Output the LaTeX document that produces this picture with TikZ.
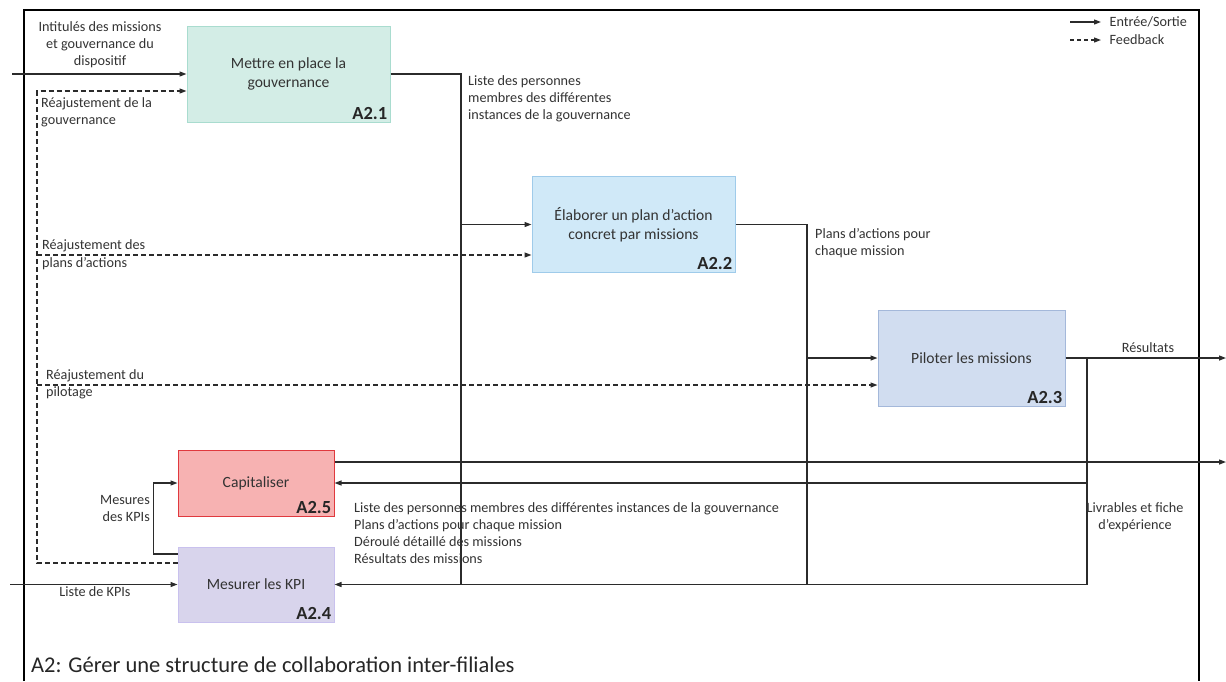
\documentclass[tikz,border=0pt]{standalone}
\usepackage{fontspec}
\setmainfont{Carlito}
\usetikzlibrary{arrows.meta,positioning,calc}
\definecolor{verA}{HTML}{D3EDE6}\definecolor{verB}{HTML}{A9DCCF}
\definecolor{bleuA}{HTML}{D0E9F8}\definecolor{bleuB}{HTML}{9FCBEA}
\definecolor{bleuC}{HTML}{D1DDF0}\definecolor{bleuD}{HTML}{A4B8DA}
\definecolor{rougeA}{HTML}{F7B2B2}\definecolor{rougeB}{HTML}{E0393E}
\definecolor{violA}{HTML}{D8D4EC}\definecolor{violB}{HTML}{C9C1EE}
\definecolor{trait}{HTML}{2B2B2B}
\definecolor{texte}{HTML}{333333}
\begin{document}
\begin{tikzpicture}[x=1pt, y=-1pt, >={Triangle[length=7pt,width=5pt]},
  box/.style={rectangle, line width=1pt, minimum width=203pt, minimum height=96pt, align=center,
    text=texte, font=\fontsize{15.6}{19.5}\selectfont},
  tag/.style={anchor=south east, inner sep=3pt, font=\bfseries\fontsize{18.5}{21}\selectfont, text=black!85},
  lbl/.style={inner sep=0pt, text=texte, font=\fontsize{14.2}{17}\selectfont},
  io/.style={draw=trait, line width=1.2pt},
  fb/.style={draw=trait, line width=1.2pt, dashed, dash pattern=on 5pt off 3pt}]
\useasboundingbox (0,0) rectangle (1226,681);
% Cadre
\draw[line width=1.6pt] (24,681) -- (24,10) -- (1199,10) -- (1199,681);
% Activites
\node [box, fill=verA, draw=verB] (A21) at (288.5,74) {Mettre en place la\\gouvernance};
\node [tag] (t21) at (A21.south east) {A2.1};
\node [box, fill=bleuA, draw=bleuB] (A22) at (633.5,224.5) {Élaborer un plan d’action\\concret par missions};
\node [tag] (t22) at (A22.south east) {A2.2};
\node [box, fill=bleuC, draw=bleuD, minimum width=187pt] (A23) at (971.5,358) {Piloter les missions};
\node [tag] (t23) at (A23.south east) {A2.3};
\node [box, fill=rougeA, draw=rougeB, minimum width=156pt, minimum height=66pt] (A25) at (256,483) {Capitaliser};
\node [tag] (t25) at (A25.south east) {A2.5};
\node [box, fill=violA, draw=violB, minimum width=156pt, minimum height=75pt] (A24) at (256,584.5) {Mesurer les KPI};
\node [tag] (t24) at (A24.south east) {A2.4};
% Points libres et jonctions
\coordinate (in1) at (12,74);
\coordinate (in2) at (10,584.5);
\coordinate (out1) at (1226,358);
\coordinate (out2) at (1226,462);
\coordinate (fbx) at (37,563);
\coordinate (jA) at (461,584.5);
\coordinate (jB) at (807,584.5);
\coordinate (jC) at (1087,584.5);
\coordinate (A21fb) at ([yshift=-17pt]A21.west);
\coordinate (A22fb) at ([yshift=-30.5pt]A22.west);
\coordinate (A23fb) at ([yshift=-27pt]A23.west);
% Entrees / sorties
\draw [io, ->] (in1) -- (A21.west);
\draw [io] (A21.east) -| (jA);
\draw [io, ->] (jA |- A22.west) -- (A22.west);
\draw [io] (A22.east) -| (jB);
\draw [io, ->] (jB |- A23.west) -- (A23.west);
\draw [io, ->] (A23.east) -- (out1);
\draw [io] (jC |- A23.east) -- (jC);
\draw [io, ->] (jC) -- (A24.east);
\draw [io, ->] (jC |- A25.east) -- (A25.east);
\draw [io, ->] ([yshift=21pt]A25.east) -- (out2);
\draw [io, ->] ([yshift=30.5pt]A24.west) -- ++(-24,0) |- (A25.west);
\draw [io, ->] (in2) -- (A24.west);
% Feedback
\draw [fb, ->] ([yshift=21.5pt]A24.west) -- (fbx) |- (A21fb);
\draw [fb, ->] (fbx |- A22fb) -- (A22fb);
\draw [fb, ->] (fbx |- A23fb) -- (A23fb);
% Etiquettes
\node [lbl, align=center] (l1) at (100,45) {Intitulés des missions\\et gouvernance du\\dispositif};
\node [lbl, align=left, anchor=west] (l2) at (41,112) {Réajustement de la\\gouvernance};
\node [lbl, align=left, anchor=west] (l3) at (468,99) {Liste des personnes\\membres des différentes\\instances de la gouvernance};
\node [lbl, align=left, anchor=west, font=\fontsize{14.2}{18}\selectfont] (l4) at (42,255) {Réajustement des\\plans d’actions};
\node [lbl, align=left, anchor=west] (l5) at (815,243) {Plans d’actions pour\\chaque mission};
\node [lbl, align=left, anchor=west] (l6) at (46,384) {Réajustement du\\pilotage};
\node [lbl] (l7) at (1148,348) {Résultats};
\node [lbl, align=right, anchor=east] (l8) at (150,508) {Mesures\\des KPIs};
\node [lbl] (l9) at (95,592) {Liste de KPIs};
\node [lbl, align=left, anchor=west] (l10) at (354,533) {Liste des personnes membres des différentes instances de la gouvernance\\Plans d’actions pour chaque mission\\Déroulé détaillé des missions\\Résultats des missions};
\node [lbl, align=center] (l11) at (1135,517) {Livrables et fiche\\d’expérience};
% Legende
\coordinate (lg1) at (1070,22);
\coordinate (lg2) at (1070,40);
\draw [io, ->] (lg1) -- ++(31,0) node [lbl, anchor=west, xshift=8pt] (lgio) {Entrée/Sortie};
\draw [fb, dash pattern=on 4pt off 3pt, ->] (lg2) -- ++(31,0) node [lbl, anchor=west, xshift=8pt] (lgfb) {Feedback};
% Titre
\node [anchor=west, inner sep=0pt, text=black!85, font=\fontsize{22.5}{26}\selectfont] (titre) at (31,665) {A2: Gérer une structure de collaboration inter-filiales};
\end{tikzpicture}
\end{document}
